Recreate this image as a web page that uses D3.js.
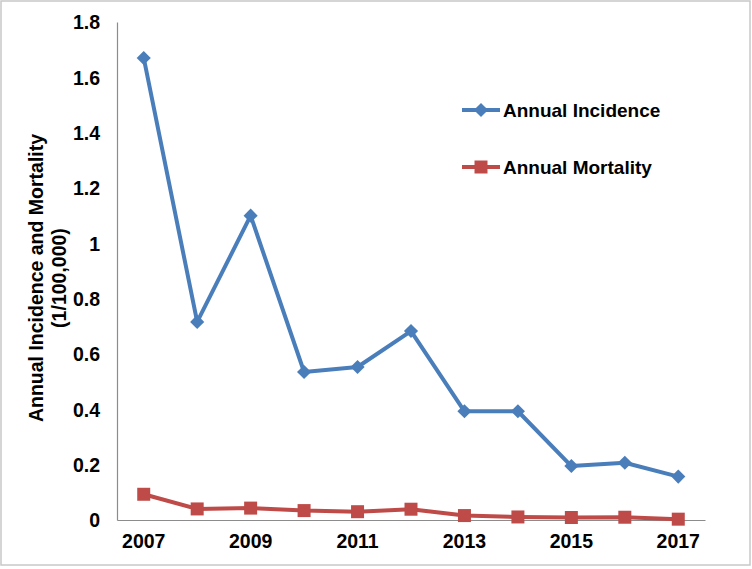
<!DOCTYPE html>
<html><head><meta charset="utf-8">
<script src="https://cdn.jsdelivr.net/npm/d3@7"></script>
<style>body{margin:0;background:#fff}svg{display:block}text{font-family:"Liberation Sans",Arial,sans-serif;font-weight:bold;fill:#000}</style>
</head><body>
<script>
const years = [2007,2008,2009,2010,2011,2012,2013,2014,2015,2016,2017];
const incidence = [1.67,0.716,1.10,0.535,0.553,0.683,0.393,0.393,0.195,0.207,0.157];
const mortality = [0.093,0.040,0.043,0.034,0.030,0.039,0.016,0.011,0.009,0.010,0.003];
const yTicks = [0,0.2,0.4,0.6,0.8,1,1.2,1.4,1.6,1.8];
const xTickLabels = [2007,2009,2011,2013,2015,2017];
const seriesNames = ["Annual Incidence","Annual Mortality"];
const yTitle = ["Annual Incidence and Mortality","(1/100,000)"];

const W=752,H=569;
const svg=d3.select("body").append("svg").attr("width",W).attr("height",H);
svg.append("rect").attr("x",1).attr("y",1).attr("width",749).attr("height",564)
  .attr("fill","#fff").attr("stroke","#c8c8c8").attr("stroke-width",1.5);

const x=d3.scaleBand().domain(years).range([117,705]);
const y=d3.scaleLinear().domain([0,1.8]).range([520,22]);
const cx=d=>x(d)+x.bandwidth()/2;

// y axis
const ya=svg.append("g").attr("transform","translate(117,0)")
  .call(d3.axisLeft(y).tickValues(yTicks).tickSize(0).tickPadding(17).tickFormat(d=>String(d)));
ya.select(".domain").attr("stroke","#8c8c8c").attr("stroke-width",1.2);
ya.selectAll("text").attr("font-size",19.5).attr("font-family",null).attr("dy","0.35em");

// x axis
const xa=svg.append("g").attr("transform","translate(0,520)")
  .call(d3.axisBottom(x).tickValues(xTickLabels).tickSize(0).tickPadding(14));
xa.select(".domain").attr("stroke","#8c8c8c").attr("stroke-width",1.2);
xa.selectAll("text").attr("font-size",19.5).attr("font-family",null);

// y title
const yt=svg.append("text").attr("transform","translate(0,278) rotate(-90)")
  .attr("text-anchor","middle").attr("font-size",19.5);
yt.append("tspan").attr("x",0).attr("y",43).text(yTitle[0]);
yt.append("tspan").attr("x",0).attr("y",66).text(yTitle[1]);

const line=d3.line().x((d,i)=>cx(years[i])).y(d=>y(d));
const blue="#4a7ebb", red="#be4b48";

svg.append("path").datum(incidence).attr("d",line).attr("fill","none").attr("stroke",blue).attr("stroke-width",4).attr("stroke-linejoin","round");
svg.append("path").datum(mortality).attr("d",line).attr("fill","none").attr("stroke",red).attr("stroke-width",4).attr("stroke-linejoin","round");

svg.selectAll(".inc").data(incidence).join("path").attr("class","inc")
  .attr("transform",(d,i)=>`translate(${cx(years[i])},${y(d)}) rotate(45)`)
  .attr("d",d3.symbol().type(d3.symbolSquare).size(100)()).attr("fill",blue);
svg.selectAll(".mor").data(mortality).join("path").attr("class","mor")
  .attr("transform",(d,i)=>`translate(${cx(years[i])},${y(d)})`)
  .attr("d",d3.symbol().type(d3.symbolSquare).size(169)()).attr("fill",red);

// legend
const leg=[{n:seriesNames[0],c:blue,ly:110,t:"d"},{n:seriesNames[1],c:red,ly:167,t:"s"}];
leg.forEach(l=>{
  svg.append("line").attr("x1",462).attr("x2",500).attr("y1",l.ly).attr("y2",l.ly).attr("stroke",l.c).attr("stroke-width",4);
  if(l.t==="d") svg.append("path").attr("transform",`translate(481,${l.ly}) rotate(45)`).attr("d",d3.symbol().type(d3.symbolSquare).size(100)()).attr("fill",l.c);
  else svg.append("path").attr("transform",`translate(481,${l.ly})`).attr("d",d3.symbol().type(d3.symbolSquare).size(169)()).attr("fill",l.c);
  svg.append("text").attr("x",503).attr("y",l.ly).attr("dy","0.35em").attr("font-size",19).text(l.n);
});
</script>
</body></html>
